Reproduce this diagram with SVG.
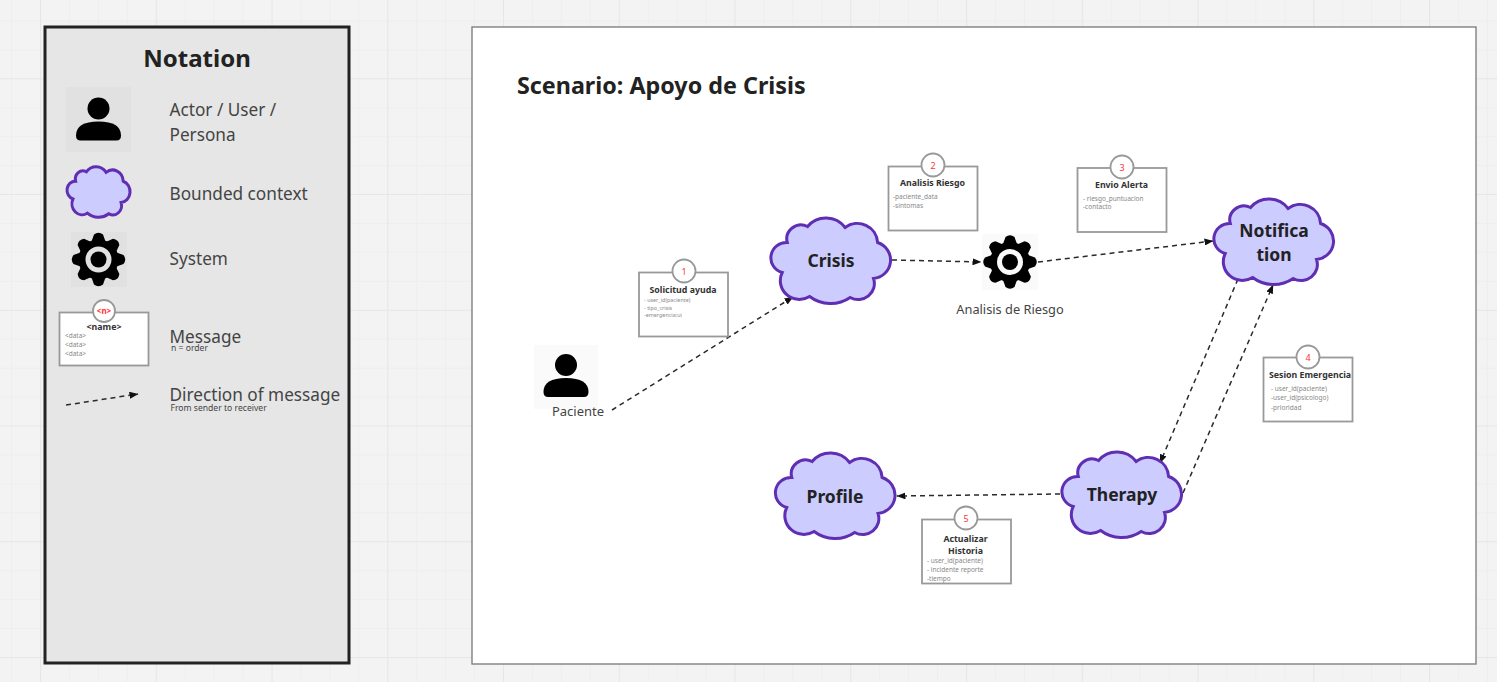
<svg xmlns="http://www.w3.org/2000/svg" width="1497" height="682" viewBox="0 0 1497 682">
<style>
text{font-family:"Noto Sans","Open Sans","Liberation Sans",sans-serif}
#cloud{vector-effect:non-scaling-stroke}
.cl{fill:#ccccff;stroke:#5f2eb3;stroke-width:3}
.cn{font-size:17.500px;font-weight:700;fill:#222;text-anchor:middle}
.lg{font-size:17.200px;fill:#444}
.sm{font-size:8.600px;fill:#444}
.box{fill:#fff;stroke:#999;stroke-width:1.800}
.bd{fill:#fff;stroke:#999;stroke-width:1.800}
.num{font-size:9px;fill:#f33;text-anchor:middle}
.tt{font-size:8.800px;font-weight:700;fill:#333;text-anchor:middle}
.dt{font-size:6.500px;fill:#888}
.c{fill:none;stroke:#2a2a2a;stroke-width:1.500;stroke-dasharray:5 4;marker-end:url(#ah)}
.ic{fill:#000;fill-opacity:.02}
</style>
<defs>
<marker id="ah" viewBox="0 0 9 7" refX="8.500" refY="3.500" markerWidth="9" markerHeight="7" markerUnits="userSpaceOnUse" orient="auto"><path d="M0 0L9 3.500L0 7z" fill="#111"/></marker>
<pattern id="gr" width="115.750" height="115.750" patternUnits="userSpaceOnUse" x="40" y="-37.500"><path d="M0 .5H115.750M0 29.500H115.750M0 58.400H115.750M0 87.300H115.750M.5 0V115.750M29.500 0V115.750M58.400 0V115.750M87.300 0V115.750" fill="none" stroke="#eeeeee" stroke-width="1"/><path d="M0 .5H115.750M.5 0V115.750" fill="none" stroke="#e6e6e6" stroke-width="1.200"/></pattern>
<path id="cloud" d="M18 25A14 14 0 0 1 38 9A23.500 23.500 0 0 1 75 10A20 20 0 0 1 107 25A18.500 18.500 0 0 1 103 61A16 16 0 0 1 80 80A34 34 0 0 1 40 79A18.800 18.800 0 0 1 13 55A15.300 15.300 0 0 1 18 25Z"/>
<path id="tooth" d="M-7 -18L-4.500 -25Q0 -28.500 4.500 -25L7 -18Z"/>
<g id="gear"><path fill-rule="evenodd" d="M-20 0A20 20 0 1 1 20 0A20 20 0 1 1 -20 0ZM-13 0A13 13 0 1 0 13 0A13 13 0 1 0 -13 0Z"/><circle r="8"/>
<use href="#tooth"/><use href="#tooth" transform="rotate(45)"/><use href="#tooth" transform="rotate(90)"/><use href="#tooth" transform="rotate(135)"/><use href="#tooth" transform="rotate(180)"/><use href="#tooth" transform="rotate(225)"/><use href="#tooth" transform="rotate(270)"/><use href="#tooth" transform="rotate(315)"/></g>
<g id="person"><circle cx="0" cy="-11" r="11"/><path d="M-22.500 16Q-22.500 2 0 2Q22.500 2 22.500 16Q22.500 21 18 21H-18Q-22.500 21 -22.500 16Z"/></g>
</defs>
<rect width="1497" height="682" fill="#f3f3f3"/>
<rect width="1497" height="682" fill="url(#gr)"/>

<g id="notation">
<rect x="45" y="27" width="304" height="636" fill="#e6e6e6" stroke="#222" stroke-width="3"/>
<text x="197" y="67" font-size="24" font-weight="700" fill="#222" text-anchor="middle">Notation</text>
<g id="legend-actor"><rect class="ic" x="66" y="87" width="65" height="65"/><use href="#person" x="98.500" y="119.500"/><text class="lg" x="169.500" y="116">Actor / User /</text><text class="lg" x="169.500" y="140.500">Persona</text></g>
<g id="legend-context"><use href="#cloud" class="cl" transform="translate(66 166.500) scale(.535 .59)"/><text class="lg" x="169.500" y="199.500">Bounded context</text></g>
<g id="legend-system"><rect class="ic" x="71" y="232" width="56" height="55"/><use href="#gear" x="98.500" y="259.500"/><text class="lg" x="169.500" y="265">System</text></g>
<g id="legend-message"><rect class="box" x="59.500" y="312.500" width="89" height="53"/><circle class="bd" cx="104" cy="311" r="11"/><text x="104" y="314" font-size="8" font-weight="700" fill="#f33" text-anchor="middle">&lt;n&gt;</text><text class="tt" x="104" y="330">&lt;name&gt;</text><text class="dt" x="65" y="338">&lt;data&gt;</text><text class="dt" x="65" y="347">&lt;data&gt;</text><text class="dt" x="65" y="356">&lt;data&gt;</text><text class="lg" x="169.500" y="343">Message</text><text class="sm" x="171" y="351">n = order</text></g>
<g id="legend-direction"><path class="c" d="M66 405L138 394"/><text class="lg" x="169.500" y="401">Direction of message</text><text class="sm" x="170.500" y="411">From sender to receiver</text></g>
</g>

<g id="frame">
<rect x="472" y="27" width="1004" height="637" fill="#fff" stroke="#808080" stroke-width="1.400"/>
<text x="517" y="94" font-size="23.300" font-weight="700" fill="#222">Scenario: Apoyo de Crisis</text>
</g>

<g id="connectors">
<path class="c" d="M612 410L793 297"/>
<path class="c" d="M892 260L981 262"/>
<path class="c" d="M1038 262L1213 241"/>
<path class="c" d="M1238 279L1160 463"/>
<path class="c" d="M1183 493L1273 285"/>
<path class="c" d="M1060 494L897 496"/>
</g>

<g id="paciente"><rect class="ic" x="534" y="345" width="64" height="64"/><use href="#person" x="566" y="376"/><text x="578" y="416" font-size="13" fill="#444" text-anchor="middle">Paciente</text></g>
<g id="crisis"><use href="#cloud" class="cl" transform="translate(769 217.500) scale(1.015 1)"/><text class="cn" x="831" y="267">Crisis</text></g>
<g id="analisis"><rect class="ic" x="982" y="234" width="56" height="56"/><use href="#gear" x="1010" y="262"/><text x="1010" y="314" font-size="12.800" fill="#444" text-anchor="middle">Analisis de Riesgo</text></g>
<g id="notification"><use href="#cloud" class="cl" transform="translate(1212 198.500) scale(1.015 1)"/><text class="cn" x="1274" y="237">Notifica</text><text class="cn" x="1274" y="261">tion</text></g>
<g id="therapy"><use href="#cloud" class="cl" transform="translate(1060 451.500) scale(1.015 1)"/><text class="cn" x="1122" y="501">Therapy</text></g>
<g id="profile"><use href="#cloud" class="cl" transform="translate(773.500 452.500) scale(1.015 1)"/><text class="cn" x="835" y="503">Profile</text></g>

<g id="msg1"><rect class="box" x="639" y="272.500" width="89" height="64"/><circle class="bd" cx="684" cy="271" r="11.500"/><text class="num" x="684" y="274.500">1</text><text class="tt" x="683" y="293">Solicitud ayuda</text><text class="dt" x="644" y="302" style="font-size:5.400px">- user_id(paciente)</text><text class="dt" x="644" y="309.500" style="font-size:5.400px">- tipo_crisis</text><text class="dt" x="644" y="317" style="font-size:5.400px">-emergencia:ui</text></g>
<g id="msg2"><rect class="box" x="888.500" y="166.500" width="89" height="64"/><circle class="bd" cx="933" cy="165" r="11.500"/><text class="num" x="933" y="168.500">2</text><text class="tt" x="932.500" y="186">Analisis Riesgo</text><text class="dt" x="893" y="198.500">-paciente_data</text><text class="dt" x="893" y="208">-sintomas</text></g>
<g id="msg3"><rect class="box" x="1077.500" y="168" width="89" height="64"/><circle class="bd" cx="1122" cy="167" r="11.500"/><text class="num" x="1122" y="170.500">3</text><text class="tt" x="1121.500" y="188">Envio Alerta</text><text class="dt" x="1083" y="200.500">- riesgo_puntuacion</text><text class="dt" x="1083" y="209">-contacto</text></g>
<g id="msg4"><rect class="box" x="1263.500" y="357.500" width="89" height="64"/><circle class="bd" cx="1308" cy="357" r="11.500"/><text class="num" x="1308" y="360.500">4</text><text class="tt" x="1310" y="378">Sesion Emergencia</text><text class="dt" x="1271" y="391">- user_id(paciente)</text><text class="dt" x="1271" y="400">-user_id(psicologo)</text><text class="dt" x="1271" y="410">-prioridad</text></g>
<g id="msg5"><rect class="box" x="922" y="519.500" width="89" height="64"/><circle class="bd" cx="966" cy="518" r="11.500"/><text class="num" x="966" y="521.500">5</text><text class="tt" x="965.500" y="542">Actualizar</text><text class="tt" x="965.500" y="554">Historia</text><text class="dt" x="927" y="562.500">- user_id(paciente)</text><text class="dt" x="927" y="571.500">- incidente reporte</text><text class="dt" x="927" y="580.500">-tiempo</text></g>
</svg>
